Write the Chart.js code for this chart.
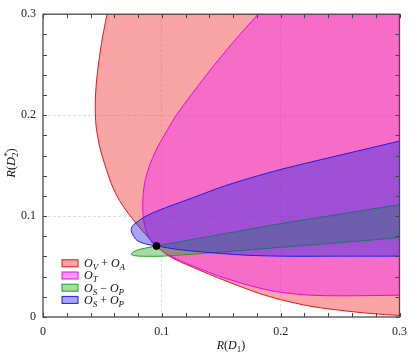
<!DOCTYPE html>
<html>
<head>
<meta charset="utf-8">
<script src="https://cdn.jsdelivr.net/npm/chart.js@4.4.1/dist/chart.umd.min.js"></script>
<style>
  body { margin: 0; background: #fff; }
  #wrap { width: 415px; height: 356px; position: relative; }
</style>
</head>
<body>
<div id="wrap"><canvas id="chart"></canvas></div>
<script>
// Axis ranges and tick labels
const X_MAX = 0.3;
const Y_MAX = 0.3;
const xTicks = [0, 0.1, 0.2, 0.3];
const yTicks = [0, 0.1, 0.2, 0.3];
const xTickLabels = ['0', '0.1', '0.2', '0.3'];
const yTickLabels = ['0', '0.1', '0.2', '0.3'];
const minorStep = 0.02;

// O_V + O_A boundary (top edge -> left -> bottom right)
const redX = [0.0538, 0.0492, 0.0455, 0.0441, 0.0440, 0.0446, 0.0469, 0.0502, 0.0575, 0.0644, 0.0742, 0.0840,
              0.0955, 0.1061, 0.1256, 0.1533, 0.1810, 0.2000, 0.2255, 0.2533, 0.2750, 0.3000];
const redY = [0.3000, 0.2710, 0.2390, 0.2180, 0.2050, 0.1900, 0.1730, 0.1580, 0.1320, 0.1153, 0.0989, 0.0850,
              0.0704, 0.0603, 0.0495, 0.0360, 0.0238, 0.0172, 0.0106, 0.0062, 0.0036, 0.0015];

// O_T boundary
const magX = [0.1810, 0.1594, 0.1367, 0.1122, 0.1050, 0.0986, 0.0948, 0.0890, 0.0854, 0.0840, 0.0844,
              0.0868, 0.0905, 0.0955, 0.1061, 0.1256, 0.1533, 0.1810, 0.2000, 0.2255, 0.2533, 0.3000];
const magY = [0.3000, 0.2714, 0.2386, 0.2000, 0.1860, 0.1730, 0.1645, 0.1480, 0.1320, 0.1150, 0.0989,
              0.0850, 0.0760, 0.0695, 0.0612, 0.0508, 0.0385, 0.0290, 0.0245, 0.0216, 0.0210, 0.0216];

// O_S - O_P boundary (right edge upper -> left tip -> right edge lower)
const greenX = [0.3000, 0.2533, 0.2000, 0.1533, 0.1256, 0.0955, 0.0894, 0.0811, 0.0760, 0.0742, 0.0770,
                0.0839, 0.0978, 0.1061, 0.1256, 0.1533, 0.2000, 0.2533, 0.3000];
const greenY = [0.1114, 0.1025, 0.0925, 0.0826, 0.0768, 0.0704, 0.0690, 0.0669, 0.0645, 0.0622, 0.0608,
                0.0602, 0.0602, 0.0607, 0.0622, 0.0647, 0.0690, 0.0740, 0.0787];

// O_S + O_P boundary
const blueX = [0.3000, 0.2533, 0.2064, 0.1810, 0.1533, 0.1256, 0.1061, 0.0978, 0.0867, 0.0783, 0.0752, 0.0742,
               0.0765, 0.0800, 0.0870, 0.0955, 0.1117, 0.1339, 0.1700, 0.2064, 0.2500, 0.3000];
const blueY = [0.1743, 0.1613, 0.1481, 0.1400, 0.1300, 0.1180, 0.1096, 0.1058, 0.1000, 0.0935, 0.0900, 0.0858,
               0.0795, 0.0752, 0.0722, 0.0704, 0.0672, 0.0645, 0.0613, 0.0602, 0.0603, 0.0603];

// marked point
const smX = [0.0955];
const smY = [0.0704];

const FONT = "'Liberation Serif', 'Times New Roman', serif";

// legend entries as math pieces: [text, kind]
const legendItems = [
  { parts: [['O', 'i'], ['V', 'sub'], [' + ', 'r'], ['O', 'i'], ['A', 'sub']], fill: 'rgba(240,40,40,0.42)', line: 'rgb(232,20,20)' },
  { parts: [['O', 'i'], ['T', 'sub']], fill: 'rgba(240,40,240,0.45)', line: 'rgb(240,0,240)' },
  { parts: [['O', 'i'], ['S', 'sub'], [' \u2212 ', 'r'], ['O', 'i'], ['P', 'sub']], fill: 'rgba(40,170,40,0.42)', line: 'rgb(30,160,30)' },
  { parts: [['O', 'i'], ['S', 'sub'], [' + ', 'r'], ['O', 'i'], ['P', 'sub']], fill: 'rgba(40,40,230,0.42)', line: 'rgb(30,30,230)' }
];

function pts(xs, ys) {
  return xs.map((x, i) => ({ x: x, y: ys[i] }));
}

// closed region running into the top-right corner
function cornerRegion(xs, ys) {
  const p = pts(xs, ys);
  return [{ x: X_MAX, y: Y_MAX }, p[0]].concat(p);
}

function region(label, data, c) {
  return {
    label: label,
    data: data,
    showLine: true,
    fill: 'shape',
    backgroundColor: c.fill,
    borderColor: c.line,
    borderWidth: 1,
    pointRadius: 0,
    tension: 0.3
  };
}

function labelFor(ticks, labels, v) {
  const i = ticks.findIndex(t => Math.abs(t - v) < 1e-9);
  return i >= 0 ? labels[i] : '';
}

function gridColor(v, max) {
  if (Math.abs(v) < 1e-9 || Math.abs(v - max) < 1e-9) return 'rgba(0,0,0,0)';
  return 'rgba(185,185,185,0.55)';
}

function fontFor(kind, size) {
  const small = kind === 'sub' || kind === 'subr' || kind === 'sup';
  const italic = kind === 'i' || kind === 'sub' || kind === 'sup';
  return (italic ? 'italic ' : '') + (small ? Math.round(size * 0.72) : size) + 'px ' + FONT;
}

function mathWidth(ctx, parts, size) {
  let w = 0;
  parts.forEach(p => {
    if (p[1] === 'supsub') {
      ctx.font = fontFor('sup', size);
      const a = ctx.measureText(p[0]).width;
      ctx.font = fontFor('subr', size);
      w += Math.max(a, ctx.measureText(p[2]).width);
    } else {
      ctx.font = fontFor(p[1], size);
      w += ctx.measureText(p[0]).width;
    }
  });
  return w;
}

function drawMath(ctx, parts, x, y, size, center) {
  let cx = center ? x - mathWidth(ctx, parts, size) / 2 : x;
  ctx.textBaseline = 'alphabetic';
  ctx.textAlign = 'left';
  parts.forEach(p => {
    if (p[1] === 'supsub') {
      ctx.font = fontFor('sup', size);
      ctx.fillText(p[0], cx, y - size * 0.38);
      const a = ctx.measureText(p[0]).width;
      ctx.font = fontFor('subr', size);
      ctx.fillText(p[2], cx, y + size * 0.25);
      cx += Math.max(a, ctx.measureText(p[2]).width);
      return;
    }
    ctx.font = fontFor(p[1], size);
    let dy = 0;
    if (p[1] === 'sub' || p[1] === 'subr') dy = size * 0.25;
    if (p[1] === 'sup') dy = -size * 0.38;
    ctx.fillText(p[0], cx, y + dy);
    cx += ctx.measureText(p[0]).width;
  });
}

const overlay = {
  id: 'overlay',
  afterDatasetsDraw(chart) {
    const { ctx, chartArea: a, scales: { x, y } } = chart;
    ctx.save();

    // inward tick marks on all four sides
    ctx.strokeStyle = '#444';
    ctx.lineWidth = 1;
    const n = Math.round(X_MAX / minorStep);
    for (let i = 0; i <= n; i++) {
      const v = i * minorStep;
      const px = Math.round(x.getPixelForValue(v)) + 0.5;
      const py = Math.round(y.getPixelForValue(v)) + 0.5;
      ctx.beginPath();
      ctx.moveTo(px, a.bottom); ctx.lineTo(px, a.bottom - 4);
      ctx.moveTo(px, a.top); ctx.lineTo(px, a.top + 4);
      ctx.moveTo(a.left, py); ctx.lineTo(a.left + 4, py);
      ctx.moveTo(a.right, py); ctx.lineTo(a.right - 4, py);
      ctx.stroke();
    }

    // frame
    ctx.strokeStyle = '#4a4a4a';
    ctx.lineWidth = 1.3;
    ctx.strokeRect(a.left, a.top, a.right - a.left, a.bottom - a.top);

    // legend
    legendItems.forEach((it, i) => {
      const cy = 263.3 + i * 12.2;
      ctx.fillStyle = it.fill;
      ctx.fillRect(62, cy - 3.5, 16, 7);
      ctx.strokeStyle = it.line;
      ctx.lineWidth = 1;
      ctx.strokeRect(62, cy - 3.5, 16, 7);
      ctx.fillStyle = '#111';
      drawMath(ctx, it.parts, 84, cy + 3.8, 12, false);
    });

    // axis titles
    ctx.fillStyle = '#111';
    drawMath(ctx, [['R', 'i'], ['(', 'r'], ['D', 'i'], ['1', 'subr'], [')', 'r']], 231, 349, 12, true);
    ctx.save();
    ctx.translate(15, 163);
    ctx.rotate(-Math.PI / 2);
    drawMath(ctx, [['R', 'i'], ['(', 'r'], ['D', 'i'], ['*', 'supsub', '2'], [')', 'r']], 0, 0, 12.5, true);
    ctx.restore();

    ctx.restore();
  }
};

new Chart(document.getElementById('chart'), {
  type: 'scatter',
  data: {
    datasets: [
      {
        label: 'point',
        data: pts(smX, smY),
        backgroundColor: '#000',
        borderColor: '#000',
        pointRadius: 3.5,
        showLine: false
      },
      region('O_S + O_P', pts(blueX, blueY), legendItems[3]),
      region('O_S - O_P', pts(greenX, greenY), legendItems[2]),
      region('O_T', cornerRegion(magX, magY), legendItems[1]),
      region('O_V + O_A', cornerRegion(redX, redY), legendItems[0])
    ]
  },
  options: {
    responsive: true,
    maintainAspectRatio: false,
    animation: false,
    events: [],
    layout: { padding: { top: 12, right: 13, left: 0, bottom: 0 } },
    plugins: {
      legend: { display: false },
      tooltip: { enabled: false }
    },
    scales: {
      x: {
        type: 'linear',
        min: 0,
        max: X_MAX,
        afterFit: s => { s.height = 39; },
        ticks: {
          stepSize: 0.1,
          padding: 8,
          maxRotation: 0,
          color: '#222',
          font: { family: FONT, size: 12 },
          callback: v => labelFor(xTicks, xTickLabels, v)
        },
        grid: { drawTicks: false, lineWidth: 0.8, color: c => gridColor(c.tick ? c.tick.value : 0, X_MAX) },
        border: { display: false, dash: [3, 2] }
      },
      y: {
        type: 'linear',
        min: 0,
        max: Y_MAX,
        afterFit: s => { s.width = 43; },
        ticks: {
          stepSize: 0.1,
          padding: 7,
          color: '#222',
          font: { family: FONT, size: 12 },
          callback: v => labelFor(yTicks, yTickLabels, v)
        },
        grid: { drawTicks: false, lineWidth: 0.8, color: c => gridColor(c.tick ? c.tick.value : 0, Y_MAX) },
        border: { display: false, dash: [3, 2] }
      }
    }
  },
  plugins: [overlay]
});
</script>
</body>
</html>
